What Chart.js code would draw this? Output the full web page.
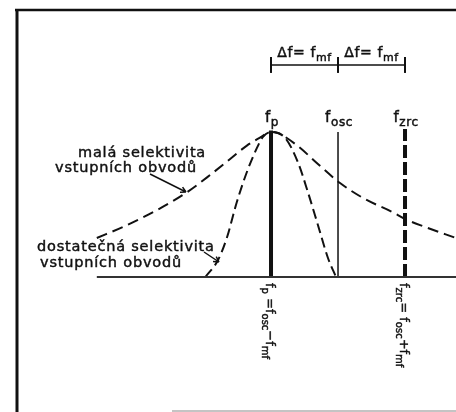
<!DOCTYPE html>
<html lang="cs">
<head>
<meta charset="utf-8">
<title>Selektivita vstupních obvodů</title>
<script src="https://cdn.jsdelivr.net/npm/chart.js@4.4.1/dist/chart.umd.min.js"></script>
<style>
  html, body { margin: 0; padding: 0; background: #fff; }
  #wrap { width: 456px; height: 412px; }
</style>
</head>
<body>
<div id="wrap"><canvas id="chart" width="456" height="412"></canvas></div>
<script>
// x: frequency offset from f_p in units of f_mf; y: response normalised to the peak
const WIDE_X = [-2.60, -2.21, -1.70, -1.25, -0.91, -0.61, -0.36, -0.16, 0, 0.10, 0.40, 0.70, 1.03, 1.40, 1.81, 2.00, 2.30, 2.76];
const WIDE_Y = [0.269, 0.345, 0.462, 0.586, 0.703, 0.814, 0.906, 0.962, 1, 0.993, 0.903, 0.779, 0.648, 0.538, 0.448, 0.400, 0.345, 0.269];

const NARROW_X = [-0.98, -0.79, -0.66, -0.51, -0.36, -0.21, -0.12, 0, 0.21, 0.40, 0.55, 0.70, 0.85, 0.97];
const NARROW_Y = [0, 0.117, 0.269, 0.517, 0.724, 0.890, 0.966, 1, 0.959, 0.793, 0.586, 0.359, 0.131, 0];

// f_p, f_osc, f_zrc and how high each marker line reaches
const MARK_X = [0, 1, 2];
const MARK_TOP = [1.01, 1.0, 1.02];
const MARK_NAMES = ["p", "osc", "zrc"];

// bracket Δf = f_mf between the three frequencies
const BRACKET_X = [0, 1, 2];
const BRACKET_Y = 1.462;

const BASE_START = -2.60;

// ---------- view ----------
const X_MIN = -4.045, X_MAX = 2.761;
const Y_MIN = -0.931, Y_MAX = 1.910;
const INK = "#111";
const FONT = '"DejaVu Sans", sans-serif';

const pts = (xs, ys) => xs.map((x, i) => ({ x, y: ys[i] }));

function lineSet(data, width, dash, extra) {
  return Object.assign({
    data,
    showLine: true,
    borderColor: INK,
    borderWidth: width,
    borderDash: dash || [],
    pointRadius: 0,
    fill: false,
  }, extra || {});
}

const datasets = [];
datasets.push(lineSet([{ x: BASE_START, y: 0 }, { x: X_MAX, y: 0 }], 2, null, { borderColor: "#333" }));
datasets.push(lineSet(pts(WIDE_X, WIDE_Y), 2, [11, 6], { cubicInterpolationMode: "monotone" }));
datasets.push(lineSet(pts(NARROW_X, NARROW_Y), 2, [10, 5], { cubicInterpolationMode: "monotone" }));
datasets.push(lineSet([{ x: MARK_X[0], y: 0 }, { x: MARK_X[0], y: MARK_TOP[0] }], 4));
datasets.push(lineSet([{ x: MARK_X[1], y: 0 }, { x: MARK_X[1], y: MARK_TOP[1] }], 1.5));
datasets.push(lineSet([{ x: MARK_X[2], y: 0 }, { x: MARK_X[2], y: MARK_TOP[2] }], 4, [13, 4]));
datasets.push(lineSet([{ x: BRACKET_X[0], y: BRACKET_Y }, { x: BRACKET_X[2], y: BRACKET_Y }], 1.5));
BRACKET_X.forEach((x) => {
  datasets.push(lineSet([{ x, y: BRACKET_Y - 0.055 }, { x, y: BRACKET_Y + 0.055 }], 2));
});

// ---------- text helpers ----------
function runFont(size, sub) {
  return `${sub ? Math.round(size * 0.8) : size}px ${FONT}`;
}
function richWidth(ctx, runs, size) {
  let w = 0;
  runs.forEach(([t, sub]) => { ctx.font = runFont(size, sub); w += ctx.measureText(t).width; });
  return w;
}
function drawRich(ctx, runs, x, y, size, align) {
  let cx = align === "center" ? x - richWidth(ctx, runs, size) / 2 : x;
  runs.forEach(([t, sub]) => {
    ctx.font = runFont(size, sub);
    const ty = sub ? y + size * 0.28 : y;
    ctx.fillText(t, cx, ty);
    ctx.strokeText(t, cx, ty);
    cx += ctx.measureText(t).width;
  });
}
function boldText(ctx, t, x, y) {
  ctx.fillText(t, x, y);
  ctx.strokeText(t, x, y);
}
function arrowLine(ctx, x1, y1, x2, y2) {
  ctx.beginPath();
  ctx.moveTo(x1, y1);
  ctx.lineTo(x2, y2);
  const a = Math.atan2(y2 - y1, x2 - x1);
  [0.5, -0.5].forEach((d) => {
    ctx.moveTo(x2, y2);
    ctx.lineTo(x2 - 6 * Math.cos(a + d), y2 - 6 * Math.sin(a + d));
  });
  ctx.stroke();
}

const decor = {
  id: "decor",
  beforeDatasetsDraw(chart) {
    const ctx = chart.ctx;
    ctx.save();
    ctx.strokeStyle = INK;
    ctx.lineWidth = 2.5;
    ctx.beginPath();
    ctx.moveTo(15, 10); ctx.lineTo(456, 10);
    ctx.stroke();
    ctx.lineWidth = 3;
    ctx.beginPath();
    ctx.moveTo(17, 9); ctx.lineTo(17, 412);
    ctx.stroke();
    ctx.strokeStyle = "#c4c4c4";
    ctx.lineWidth = 2;
    ctx.beginPath();
    ctx.moveTo(172, 411); ctx.lineTo(456, 411);
    ctx.stroke();
    ctx.restore();
  },
  afterDatasetsDraw(chart) {
    const ctx = chart.ctx;
    const xs = chart.scales.x, ys = chart.scales.y;
    ctx.save();
    ctx.fillStyle = INK;
    ctx.strokeStyle = INK;
    ctx.lineWidth = 0.45;
    ctx.textBaseline = "alphabetic";
    ctx.letterSpacing = "0.6px";

    // Δf = f_mf above each half of the bracket
    const by = ys.getPixelForValue(BRACKET_Y) - 8;
    for (let i = 0; i < 2; i++) {
      const cx = (xs.getPixelForValue(BRACKET_X[i]) + xs.getPixelForValue(BRACKET_X[i + 1])) / 2;
      drawRich(ctx, [["Δf= f", false], ["mf", true]], cx, by, 14, "center");
    }

    // marker names
    MARK_X.forEach((x, i) => {
      drawRich(ctx, [["f", false], [MARK_NAMES[i], true]], xs.getPixelForValue(x) + 1, 122, 15, "center");
    });

    // curve annotations
    ctx.letterSpacing = "0.8px";
    ctx.font = runFont(14.5, false);
    boldText(ctx, "malá selektivita", 78, 157);
    boldText(ctx, "vstupních obvodů", 55, 172);
    boldText(ctx, "dostatečná selektivita", 37, 251);
    boldText(ctx, "vstupních obvodů", 40, 267);
    ctx.lineWidth = 1.5;
    arrowLine(ctx, 150, 174, 186, 192);
    arrowLine(ctx, 204, 252, 219, 262);

    // rotated relations under the axis
    ctx.lineWidth = 0.45;
    ctx.letterSpacing = "0px";
    const rel = [
      [["f", false], ["p", true], [" =f", false], ["osc", true], ["−f", false], ["mf", true]],
      null,
      [["f", false], ["zrc", true], ["= f", false], ["osc", true], ["+f", false], ["mf", true]],
    ];
    MARK_X.forEach((x, i) => {
      if (!rel[i]) return;
      ctx.save();
      ctx.translate(xs.getPixelForValue(x) - 5, 283);
      ctx.rotate(Math.PI / 2);
      drawRich(ctx, rel[i], 0, 0, 13, "left");
      ctx.restore();
    });
    ctx.restore();
  },
};

new Chart(document.getElementById("chart"), {
  type: "scatter",
  data: { datasets },
  options: {
    responsive: false,
    animation: false,
    layout: { padding: 0 },
    scales: {
      x: { type: "linear", min: X_MIN, max: X_MAX, display: false },
      y: { type: "linear", min: Y_MIN, max: Y_MAX, display: false },
    },
    plugins: { legend: { display: false }, tooltip: { enabled: false } },
  },
  plugins: [decor],
});
</script>
</body>
</html>
